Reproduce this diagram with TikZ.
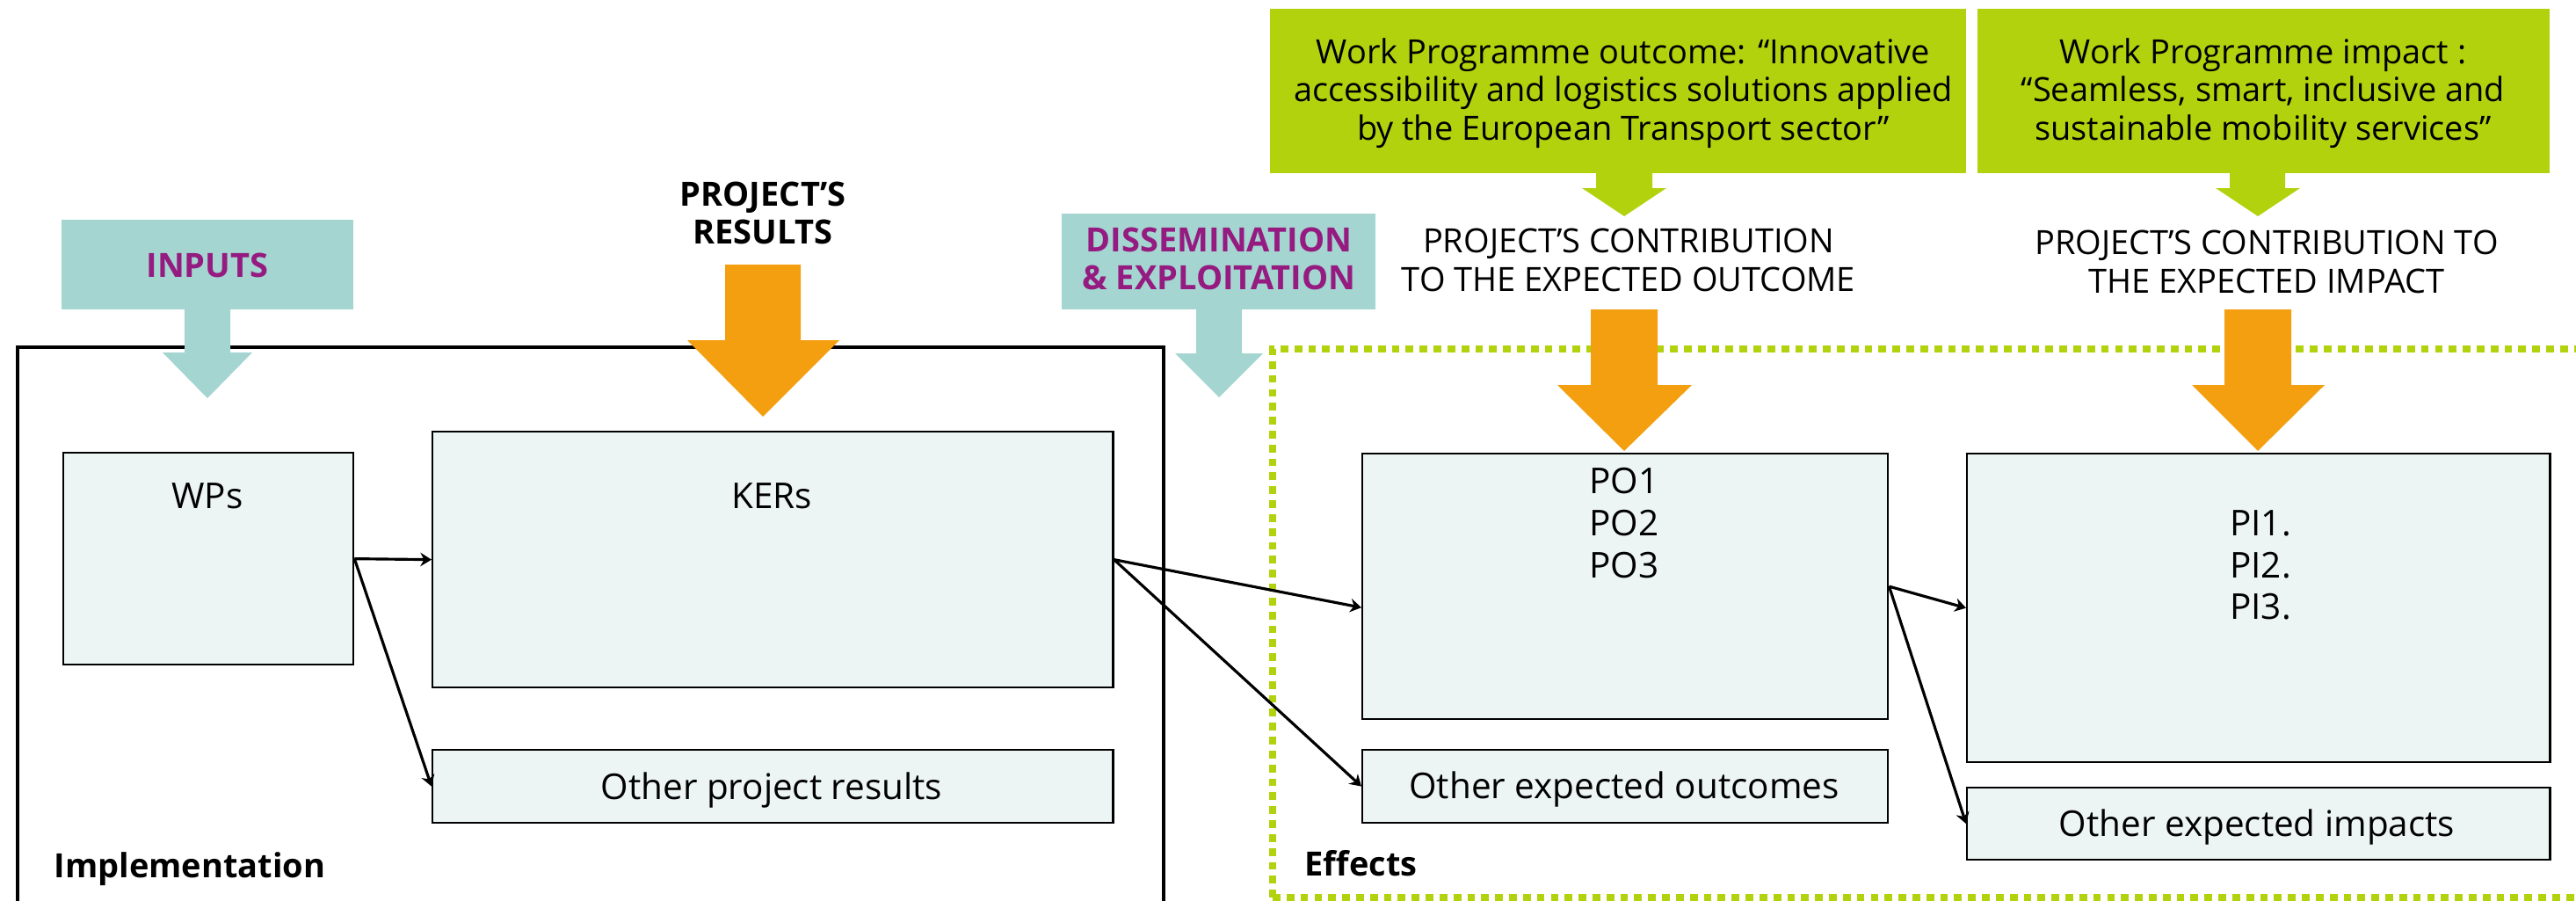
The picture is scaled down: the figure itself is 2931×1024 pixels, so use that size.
\documentclass[tikz,border=0pt]{standalone}
\usepackage{xcolor}
\usepackage{fontspec}
\setmainfont{Open Sans}
\usetikzlibrary{arrows.meta}

\definecolor{tealfill}{RGB}{164,213,208}
\definecolor{purpletext}{RGB}{149,27,129}
\definecolor{orangefill}{RGB}{243,159,16}
\definecolor{greenfill}{RGB}{178,210,14}
\definecolor{boxfill}{RGB}{236,245,243}

\tikzset{
  resbox/.style={draw=black, line width=0.6pt, fill=boxfill, inner sep=0pt, anchor=north west},
  conn/.style={line width=0.9pt, -{Stealth[length=3.6pt,width=4.4pt]}},
  boxtext/.style={font=\fontsize{11.5}{13.6}\selectfont, align=center},
  note/.style={font=\fontsize{10.8}{12.4}\selectfont, align=center},
  heading/.style={font=\bfseries\fontsize{10.8}{12.2}\selectfont, align=center}
}

\begin{document}
\begin{tikzpicture}[x=0.01cm,y=-0.01cm]
\useasboundingbox (0,0) rectangle (2931,1024);

% Frames
\draw[line width=1.1pt] (20,1060) -- (20,395) -- (1324,395) -- (1324,1060);
\draw[greenfill, line width=2.5pt, dash pattern=on 2.5pt off 2pt] (1448,1021) -- (1448,397) -- (2990,397);
\draw[greenfill, line width=2.5pt, dash pattern=on 2.5pt off 2pt] (1448,1021) -- (2990,1021);

% Inputs
\fill[tealfill] (70,250) rectangle (402,352);
\fill[tealfill] (210,351) -- (262,351) -- (262,401) -- (287,401) -- (236,453) -- (185,401) -- (210,401) -- cycle;
\node[heading, text=purpletext] (inputs) at (236,302) {INPUTS};

% Project's results
\fill[orangefill] (825,301) -- (911,301) -- (911,387) -- (955,387) -- (868,474) -- (782,387) -- (825,387) -- cycle;
\node[heading] (results) at (868,242) {PROJECT’S\\RESULTS};

% Dissemination & exploitation
\fill[tealfill] (1208,243) rectangle (1565,352);
\fill[tealfill] (1361,351) -- (1413,351) -- (1413,402) -- (1437,402) -- (1387,452) -- (1337,402) -- (1361,402) -- cycle;
\node[heading, text=purpletext] (dissem) at (1387,294) {DISSEMINATION\\\& EXPLOITATION};

% Work Programme outcome
\fill[greenfill] (1445,10) rectangle (2237,197);
\fill[greenfill] (1816,196) -- (1880,196) -- (1880,214) -- (1896,214) -- (1848,246) -- (1800,214) -- (1816,214) -- cycle;
\node[note] (wpoutcome) at (1847,106) {Work Programme outcome: “Innovative\\accessibility and logistics solutions applied\\by the European Transport sector”};
\node[note] (contribout) at (1853,296) {PROJECT’S CONTRIBUTION\\TO THE EXPECTED OUTCOME};
\fill[orangefill] (1810,352) -- (1886,352) -- (1886,438) -- (1925,438) -- (1848,513) -- (1772,438) -- (1810,438) -- cycle;

% Work Programme impact
\fill[greenfill] (2250,10) rectangle (2901,197);
\fill[greenfill] (2537,196) -- (2600,196) -- (2600,214) -- (2617,214) -- (2569,246) -- (2521,214) -- (2537,214) -- cycle;
\node[note] (wpimpact) at (2575,106) {Work Programme impact :\\“Seamless, smart, inclusive and\\sustainable mobility services”};
\node[note] (contribimp) at (2579,298) {PROJECT’S CONTRIBUTION TO\\THE EXPECTED IMPACT};
\fill[orangefill] (2531,352) -- (2607,352) -- (2607,438) -- (2645,438) -- (2569,513) -- (2494,438) -- (2531,438) -- cycle;

% Boxes
\node[resbox, minimum width=3.30cm, minimum height=2.41cm] (wps) at (71,514) {};
\node[resbox, minimum width=7.74cm, minimum height=2.91cm] (kers) at (491,490) {};
\node[resbox, minimum width=7.74cm, minimum height=0.83cm] (otherres) at (491,852) {};
\node[resbox, minimum width=5.98cm, minimum height=3.02cm] (po) at (1549,515) {};
\node[resbox, minimum width=5.98cm, minimum height=0.83cm] (otherout) at (1549,852) {};
\node[resbox, minimum width=6.63cm, minimum height=3.51cm] (pi) at (2237,515) {};
\node[resbox, minimum width=6.63cm, minimum height=0.82cm] (otherimp) at (2237,895) {};

\node[boxtext, anchor=base] (wpslabel) at (236,578) {WPs};
\node[boxtext, anchor=base] (kerslabel) at (878,578) {KERs};
\node[boxtext, anchor=base] (otherreslabel) at (878,909) {Other project results};
\node[boxtext] (polabel) at (1848,595) {PO1\\PO2\\PO3};
\node[boxtext, anchor=base] (otheroutlabel) at (1848,908) {Other expected outcomes};
\node[boxtext] (pilabel) at (2572,643) {PI1.\\PI2.\\PI3.};
\node[boxtext, anchor=base] (otherimplabel) at (2568,951) {Other expected impacts};

% Labels
\node[heading, anchor=base west, inner sep=0pt] (impl) at (61,998) {Implementation};
\node[heading, anchor=base west, inner sep=0pt] (effects) at (1484,996) {Effects};

% Connectors
\draw[conn] (wps.east) -- (kers.west);
\draw[conn] (wps.east) -- (otherres.west);
\draw[conn] (kers.east) -- ([yshift=-0.24cm]po.west);
\draw[conn] (kers.east) -- (otherout.west);
\draw[conn] (po.east) -- (pi.west);
\draw[conn] (po.east) -- (otherimp.west);
\end{tikzpicture}
\end{document}
